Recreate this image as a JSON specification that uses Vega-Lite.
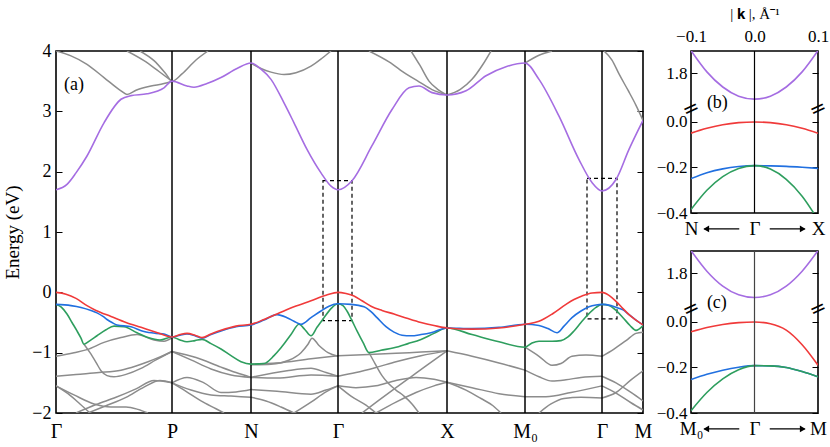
{
"$schema":"https://vega.github.io/schema/vega-lite/v6.json",
"padding":{"left":3,"top":5,"right":0,"bottom":0},
"config":{"view":{"stroke":"black","strokeWidth":1.6},"axis":{"labelFont":"Liberation Serif","titleFont":"Liberation Serif","labelColor":"black","titleColor":"black","tickColor":"black","titleFontWeight":"normal","grid":false,"domain":false,"labelFlush":false,"labelOverlap":false,"labelBound":false},"text":{"font":"Liberation Serif"}},
"datasets":{
"main":[
{"s":"u1","c":"gray","k":0,"e":4.0},{"s":"u1","c":"gray","k":15,"e":3.92},{"s":"u1","c":"gray","k":31,"e":3.78},{"s":"u1","c":"gray","k":48,"e":3.56},{"s":"u1","c":"gray","k":65,"e":3.34},{"s":"u1","c":"gray","k":71,"e":3.28},{"s":"u1","c":"gray","k":80,"e":3.35},{"s":"u1","c":"gray","k":95,"e":3.42},{"s":"u1","c":"gray","k":108,"e":3.46},{"s":"u1","c":"gray","k":116,"e":3.5},
{"s":"u2","c":"gray","k":71,"e":4.0},{"s":"u2","c":"gray","k":88,"e":3.84},{"s":"u2","c":"gray","k":103,"e":3.66},{"s":"u2","c":"gray","k":116,"e":3.5},
{"s":"u3","c":"gray","k":84,"e":4.0},{"s":"u3","c":"gray","k":98,"e":3.84},{"s":"u3","c":"gray","k":110,"e":3.62},{"s":"u3","c":"gray","k":116,"e":3.5},{"s":"u3","c":"gray","k":126,"e":3.62},{"s":"u3","c":"gray","k":140,"e":3.85},{"s":"u3","c":"gray","k":152,"e":4.0},
{"s":"u4","c":"gray","k":195,"e":3.8},{"s":"u4","c":"gray","k":205,"e":3.71},{"s":"u4","c":"gray","k":215,"e":3.65},{"s":"u4","c":"gray","k":228,"e":3.61},{"s":"u4","c":"gray","k":240,"e":3.64},{"s":"u4","c":"gray","k":255,"e":3.75},{"s":"u4","c":"gray","k":266,"e":3.88},{"s":"u4","c":"gray","k":275,"e":4.0},
{"s":"u5","c":"gray","k":313,"e":4.0},{"s":"u5","c":"gray","k":333,"e":3.82},{"s":"u5","c":"gray","k":350,"e":3.62},{"s":"u5","c":"gray","k":363,"e":3.49},{"s":"u5","c":"gray","k":376,"e":3.36},{"s":"u5","c":"gray","k":391,"e":3.27},
{"s":"u6","c":"gray","k":355,"e":4.0},{"s":"u6","c":"gray","k":364,"e":3.76},{"s":"u6","c":"gray","k":373,"e":3.5},{"s":"u6","c":"gray","k":382,"e":3.36},{"s":"u6","c":"gray","k":391,"e":3.27},
{"s":"u7","c":"gray","k":391,"e":3.27},{"s":"u7","c":"gray","k":404,"e":3.36},{"s":"u7","c":"gray","k":416,"e":3.53},{"s":"u7","c":"gray","k":427,"e":3.78},{"s":"u7","c":"gray","k":435,"e":4.0},
{"s":"u8","c":"gray","k":469,"e":3.8},{"s":"u8","c":"gray","k":483,"e":3.93},{"s":"u8","c":"gray","k":496,"e":4.0},
{"s":"u9","c":"gray","k":548,"e":4.0},{"s":"u9","c":"gray","k":556,"e":3.85},{"s":"u9","c":"gray","k":563,"e":3.62},{"s":"u9","c":"gray","k":572,"e":3.35},{"s":"u9","c":"gray","k":580,"e":3.1},{"s":"u9","c":"gray","k":587,"e":2.85},
{"s":"l1","c":"gray","k":0,"e":-1.06},{"s":"l1","c":"gray","k":18,"e":-1.0},{"s":"l1","c":"gray","k":31,"e":-0.95},{"s":"l1","c":"gray","k":48,"e":-0.83},{"s":"l1","c":"gray","k":65,"e":-0.75},{"s":"l1","c":"gray","k":81,"e":-0.7},{"s":"l1","c":"gray","k":98,"e":-0.79},{"s":"l1","c":"gray","k":108,"e":-0.81},{"s":"l1","c":"gray","k":116,"e":-0.75},
{"s":"l2","c":"gray","k":28,"e":-0.86},{"s":"l2","c":"gray","k":34,"e":-1.0},{"s":"l2","c":"gray","k":40,"e":-1.16},{"s":"l2","c":"gray","k":45,"e":-1.3},{"s":"l2","c":"gray","k":51,"e":-1.38},{"s":"l2","c":"gray","k":58,"e":-1.4},{"s":"l2","c":"gray","k":70,"e":-1.36},{"s":"l2","c":"gray","k":85,"e":-1.26},{"s":"l2","c":"gray","k":100,"e":-1.12},{"s":"l2","c":"gray","k":116,"e":-0.98},
{"s":"l3","c":"gray","k":0,"e":-1.39},{"s":"l3","c":"gray","k":20,"e":-1.36},{"s":"l3","c":"gray","k":43,"e":-1.33},{"s":"l3","c":"gray","k":65,"e":-1.29},{"s":"l3","c":"gray","k":80,"e":-1.22},{"s":"l3","c":"gray","k":92,"e":-1.15},{"s":"l3","c":"gray","k":104,"e":-1.07},{"s":"l3","c":"gray","k":116,"e":-0.98},
{"s":"l4","c":"gray","k":0,"e":-1.55},{"s":"l4","c":"gray","k":18,"e":-1.7},{"s":"l4","c":"gray","k":38,"e":-1.85},{"s":"l4","c":"gray","k":55,"e":-1.9},{"s":"l4","c":"gray","k":70,"e":-1.9},{"s":"l4","c":"gray","k":82,"e":-1.94},{"s":"l4","c":"gray","k":92,"e":-2.0},
{"s":"l5","c":"gray","k":0,"e":-1.55},{"s":"l5","c":"gray","k":12,"e":-1.68},{"s":"l5","c":"gray","k":24,"e":-1.85},{"s":"l5","c":"gray","k":34,"e":-2.0},
{"s":"l6","c":"gray","k":20,"e":-2.0},{"s":"l6","c":"gray","k":40,"e":-1.86},{"s":"l6","c":"gray","k":60,"e":-1.74},{"s":"l6","c":"gray","k":80,"e":-1.6},{"s":"l6","c":"gray","k":98,"e":-1.46},{"s":"l6","c":"gray","k":116,"e":-1.5},
{"s":"l7","c":"gray","k":32,"e":-2.0},{"s":"l7","c":"gray","k":50,"e":-1.88},{"s":"l7","c":"gray","k":70,"e":-1.74},{"s":"l7","c":"gray","k":88,"e":-1.57},{"s":"l7","c":"gray","k":104,"e":-1.46},{"s":"l7","c":"gray","k":116,"e":-1.5},
{"s":"m1","c":"gray","k":116,"e":-0.98},{"s":"m1","c":"gray","k":140,"e":-1.08},{"s":"m1","c":"gray","k":165,"e":-1.24},{"s":"m1","c":"gray","k":180,"e":-1.33},{"s":"m1","c":"gray","k":195,"e":-1.41},
{"s":"m2","c":"gray","k":116,"e":-0.98},{"s":"m2","c":"gray","k":135,"e":-1.12},{"s":"m2","c":"gray","k":155,"e":-1.27},{"s":"m2","c":"gray","k":175,"e":-1.37},{"s":"m2","c":"gray","k":195,"e":-1.41},
{"s":"m3","c":"gray","k":116,"e":-1.5},{"s":"m3","c":"gray","k":131,"e":-1.41},{"s":"m3","c":"gray","k":148,"e":-1.5},{"s":"m3","c":"gray","k":165,"e":-1.66},{"s":"m3","c":"gray","k":180,"e":-1.65},{"s":"m3","c":"gray","k":195,"e":-1.61},
{"s":"m4","c":"gray","k":116,"e":-1.5},{"s":"m4","c":"gray","k":135,"e":-1.62},{"s":"m4","c":"gray","k":155,"e":-1.7},{"s":"m4","c":"gray","k":175,"e":-1.72},{"s":"m4","c":"gray","k":195,"e":-1.74},
{"s":"m5","c":"gray","k":116,"e":-1.5},{"s":"m5","c":"gray","k":130,"e":-1.64},{"s":"m5","c":"gray","k":145,"e":-1.8},{"s":"m5","c":"gray","k":160,"e":-1.93},{"s":"m5","c":"gray","k":168,"e":-2.0},
{"s":"n1","c":"gray","k":195,"e":-1.2},{"s":"n1","c":"gray","k":215,"e":-1.19},{"s":"n1","c":"gray","k":232,"e":-1.13},{"s":"n1","c":"gray","k":245,"e":-1.0},{"s":"n1","c":"gray","k":252,"e":-0.86},{"s":"n1","c":"gray","k":256,"e":-0.76},{"s":"n1","c":"gray","k":263,"e":-0.88},{"s":"n1","c":"gray","k":272,"e":-1.0},{"s":"n1","c":"gray","k":282,"e":-1.06},
{"s":"n2","c":"gray","k":195,"e":-1.19},{"s":"n2","c":"gray","k":221,"e":-1.17},{"s":"n2","c":"gray","k":255,"e":-1.1},{"s":"n2","c":"gray","k":282,"e":-1.05},
{"s":"n3","c":"gray","k":195,"e":-1.41},{"s":"n3","c":"gray","k":231,"e":-1.3},{"s":"n3","c":"gray","k":255,"e":-1.26},{"s":"n3","c":"gray","k":270,"e":-1.33},{"s":"n3","c":"gray","k":282,"e":-1.39},
{"s":"n4","c":"gray","k":195,"e":-1.41},{"s":"n4","c":"gray","k":221,"e":-1.42},{"s":"n4","c":"gray","k":255,"e":-1.37},{"s":"n4","c":"gray","k":282,"e":-1.39},
{"s":"n5","c":"gray","k":195,"e":-1.61},{"s":"n5","c":"gray","k":221,"e":-1.64},{"s":"n5","c":"gray","k":255,"e":-1.69},{"s":"n5","c":"gray","k":270,"e":-1.62},{"s":"n5","c":"gray","k":282,"e":-1.55},
{"s":"n6","c":"gray","k":195,"e":-1.74},{"s":"n6","c":"gray","k":210,"e":-1.8},{"s":"n6","c":"gray","k":225,"e":-1.9},{"s":"n6","c":"gray","k":238,"e":-2.0},
{"s":"n7","c":"gray","k":238,"e":-2.0},{"s":"n7","c":"gray","k":255,"e":-1.82},{"s":"n7","c":"gray","k":270,"e":-1.65},{"s":"n7","c":"gray","k":282,"e":-1.55},
{"s":"x1","c":"gray","k":282,"e":-1.05},{"s":"x1","c":"gray","k":313,"e":-1.03},{"s":"x1","c":"gray","k":340,"e":-1.01},{"s":"x1","c":"gray","k":365,"e":-0.99},{"s":"x1","c":"gray","k":391,"e":-0.97},
{"s":"x2","c":"gray","k":282,"e":-1.39},{"s":"x2","c":"gray","k":300,"e":-1.33},{"s":"x2","c":"gray","k":321,"e":-1.24},{"s":"x2","c":"gray","k":340,"e":-1.15},{"s":"x2","c":"gray","k":365,"e":-1.05},{"s":"x2","c":"gray","k":391,"e":-0.97},
{"s":"x3","c":"gray","k":313,"e":-1.0},{"s":"x3","c":"gray","k":319,"e":-1.18},{"s":"x3","c":"gray","k":326,"e":-1.38},{"s":"x3","c":"gray","k":333,"e":-1.52},{"s":"x3","c":"gray","k":340,"e":-1.62},{"s":"x3","c":"gray","k":348,"e":-1.72},{"s":"x3","c":"gray","k":356,"e":-1.85},{"s":"x3","c":"gray","k":363,"e":-2.0},
{"s":"x4","c":"gray","k":282,"e":-1.55},{"s":"x4","c":"gray","k":300,"e":-1.58},{"s":"x4","c":"gray","k":320,"e":-1.55},{"s":"x4","c":"gray","k":340,"e":-1.46},{"s":"x4","c":"gray","k":360,"e":-1.41},{"s":"x4","c":"gray","k":378,"e":-1.44},{"s":"x4","c":"gray","k":391,"e":-1.49},
{"s":"x5","c":"gray","k":282,"e":-1.55},{"s":"x5","c":"gray","k":295,"e":-1.72},{"s":"x5","c":"gray","k":310,"e":-1.87},{"s":"x5","c":"gray","k":320,"e":-2.0},
{"s":"x6","c":"gray","k":320,"e":-2.0},{"s":"x6","c":"gray","k":340,"e":-1.82},{"s":"x6","c":"gray","k":360,"e":-1.66},{"s":"x6","c":"gray","k":378,"e":-1.55},{"s":"x6","c":"gray","k":391,"e":-1.49},
{"s":"x7","c":"gray","k":306,"e":-2.0},{"s":"x7","c":"gray","k":322,"e":-1.8},{"s":"x7","c":"gray","k":340,"e":-1.58},{"s":"x7","c":"gray","k":355,"e":-1.4},{"s":"x7","c":"gray","k":370,"e":-1.22},{"s":"x7","c":"gray","k":391,"e":-0.97},
{"s":"y1","c":"gray","k":391,"e":-0.97},{"s":"y1","c":"gray","k":416,"e":-1.06},{"s":"y1","c":"gray","k":443,"e":-1.17},{"s":"y1","c":"gray","k":469,"e":-1.29},
{"s":"y2","c":"gray","k":391,"e":-1.49},{"s":"y2","c":"gray","k":416,"e":-1.58},{"s":"y2","c":"gray","k":443,"e":-1.68},{"s":"y2","c":"gray","k":469,"e":-1.73},
{"s":"y3","c":"gray","k":391,"e":-1.49},{"s":"y3","c":"gray","k":410,"e":-1.62},{"s":"y3","c":"gray","k":425,"e":-1.76},{"s":"y3","c":"gray","k":437,"e":-1.88},{"s":"y3","c":"gray","k":445,"e":-2.0},
{"s":"z1","c":"gray","k":469,"e":-0.91},{"s":"z1","c":"gray","k":483,"e":-1.06},{"s":"z1","c":"gray","k":496,"e":-1.21},{"s":"z1","c":"gray","k":505,"e":-1.18},{"s":"z1","c":"gray","k":516,"e":-1.06},{"s":"z1","c":"gray","k":530,"e":-1.04},{"s":"z1","c":"gray","k":546,"e":-1.06},
{"s":"z2","c":"gray","k":469,"e":-1.29},{"s":"z2","c":"gray","k":483,"e":-1.4},{"s":"z2","c":"gray","k":496,"e":-1.47},{"s":"z2","c":"gray","k":510,"e":-1.45},{"s":"z2","c":"gray","k":525,"e":-1.41},{"s":"z2","c":"gray","k":546,"e":-1.39},
{"s":"z3","c":"gray","k":469,"e":-1.73},{"s":"z3","c":"gray","k":490,"e":-1.73},{"s":"z3","c":"gray","k":515,"e":-1.66},{"s":"z3","c":"gray","k":546,"e":-1.55},
{"s":"z4","c":"gray","k":483,"e":-2.0},{"s":"z4","c":"gray","k":495,"e":-1.85},{"s":"z4","c":"gray","k":508,"e":-1.76},{"s":"z4","c":"gray","k":525,"e":-1.74},{"s":"z4","c":"gray","k":546,"e":-1.75},
{"s":"w1","c":"gray","k":546,"e":-1.06},{"s":"w1","c":"gray","k":558,"e":-0.94},{"s":"w1","c":"gray","k":570,"e":-0.8},{"s":"w1","c":"gray","k":580,"e":-0.68},{"s":"w1","c":"gray","k":587,"e":-0.66},
{"s":"w2","c":"gray","k":546,"e":-1.39},{"s":"w2","c":"gray","k":560,"e":-1.5},{"s":"w2","c":"gray","k":575,"e":-1.66},{"s":"w2","c":"gray","k":587,"e":-1.8},
{"s":"w3","c":"gray","k":546,"e":-1.55},{"s":"w3","c":"gray","k":560,"e":-1.67},{"s":"w3","c":"gray","k":575,"e":-1.83},{"s":"w3","c":"gray","k":587,"e":-1.95},
{"s":"w4","c":"gray","k":546,"e":-1.75},{"s":"w4","c":"gray","k":560,"e":-1.66},{"s":"w4","c":"gray","k":575,"e":-1.45},{"s":"w4","c":"gray","k":587,"e":-1.3},
{"s":"g","c":"green","k":0,"e":-0.2},{"s":"g","c":"green","k":5,"e":-0.24},{"s":"g","c":"green","k":11,"e":-0.36},{"s":"g","c":"green","k":16,"e":-0.5},{"s":"g","c":"green","k":21,"e":-0.64},{"s":"g","c":"green","k":25,"e":-0.76},{"s":"g","c":"green","k":28,"e":-0.86},{"s":"g","c":"green","k":34,"e":-0.8},{"s":"g","c":"green","k":41,"e":-0.72},{"s":"g","c":"green","k":50,"e":-0.62},{"s":"g","c":"green","k":58,"e":-0.56},{"s":"g","c":"green","k":68,"e":-0.57},{"s":"g","c":"green","k":81,"e":-0.67},{"s":"g","c":"green","k":92,"e":-0.75},{"s":"g","c":"green","k":104,"e":-0.79},{"s":"g","c":"green","k":116,"e":-0.74},{"s":"g","c":"green","k":124,"e":-0.79},{"s":"g","c":"green","k":131,"e":-0.82},{"s":"g","c":"green","k":139,"e":-0.8},{"s":"g","c":"green","k":146,"e":-0.78},{"s":"g","c":"green","k":155,"e":-0.85},{"s":"g","c":"green","k":165,"e":-0.94},{"s":"g","c":"green","k":175,"e":-1.05},{"s":"g","c":"green","k":185,"e":-1.15},{"s":"g","c":"green","k":195,"e":-1.19},{"s":"g","c":"green","k":208,"e":-1.18},{"s":"g","c":"green","k":218,"e":-1.05},{"s":"g","c":"green","k":225,"e":-0.92},{"s":"g","c":"green","k":235,"e":-0.7},{"s":"g","c":"green","k":243,"e":-0.53},{"s":"g","c":"green","k":249,"e":-0.62},{"s":"g","c":"green","k":255,"e":-0.72},{"s":"g","c":"green","k":261,"e":-0.58},{"s":"g","c":"green","k":268,"e":-0.42},{"s":"g","c":"green","k":275,"e":-0.27},{"s":"g","c":"green","k":282,"e":-0.19},{"s":"g","c":"green","k":287,"e":-0.22},{"s":"g","c":"green","k":291,"e":-0.31},{"s":"g","c":"green","k":296,"e":-0.47},{"s":"g","c":"green","k":301,"e":-0.64},{"s":"g","c":"green","k":307,"e":-0.83},{"s":"g","c":"green","k":313,"e":-1.0},{"s":"g","c":"green","k":325,"e":-0.96},{"s":"g","c":"green","k":338,"e":-0.92},{"s":"g","c":"green","k":352,"e":-0.85},{"s":"g","c":"green","k":365,"e":-0.78},{"s":"g","c":"green","k":378,"e":-0.68},{"s":"g","c":"green","k":391,"e":-0.59},{"s":"g","c":"green","k":416,"e":-0.7},{"s":"g","c":"green","k":443,"e":-0.82},{"s":"g","c":"green","k":469,"e":-0.91},{"s":"g","c":"green","k":476,"e":-0.84},{"s":"g","c":"green","k":483,"e":-0.81},{"s":"g","c":"green","k":496,"e":-0.81},{"s":"g","c":"green","k":505,"e":-0.8},{"s":"g","c":"green","k":512,"e":-0.74},{"s":"g","c":"green","k":518,"e":-0.64},{"s":"g","c":"green","k":525,"e":-0.5},{"s":"g","c":"green","k":532,"e":-0.37},{"s":"g","c":"green","k":540,"e":-0.25},{"s":"g","c":"green","k":546,"e":-0.2},{"s":"g","c":"green","k":553,"e":-0.22},{"s":"g","c":"green","k":560,"e":-0.3},{"s":"g","c":"green","k":567,"e":-0.42},{"s":"g","c":"green","k":574,"e":-0.55},{"s":"g","c":"green","k":580,"e":-0.63},{"s":"g","c":"green","k":587,"e":-0.55},
{"s":"b","c":"blue","k":0,"e":-0.2},{"s":"b","c":"blue","k":15,"e":-0.22},{"s":"b","c":"blue","k":25,"e":-0.25},{"s":"b","c":"blue","k":35,"e":-0.3},{"s":"b","c":"blue","k":41,"e":-0.34},{"s":"b","c":"blue","k":47,"e":-0.4},{"s":"b","c":"blue","k":51,"e":-0.45},{"s":"b","c":"blue","k":56,"e":-0.5},{"s":"b","c":"blue","k":61,"e":-0.54},{"s":"b","c":"blue","k":75,"e":-0.57},{"s":"b","c":"blue","k":88,"e":-0.65},{"s":"b","c":"blue","k":100,"e":-0.68},{"s":"b","c":"blue","k":108,"e":-0.69},{"s":"b","c":"blue","k":116,"e":-0.74},{"s":"b","c":"blue","k":124,"e":-0.71},{"s":"b","c":"blue","k":131,"e":-0.69},{"s":"b","c":"blue","k":139,"e":-0.72},{"s":"b","c":"blue","k":146,"e":-0.76},{"s":"b","c":"blue","k":155,"e":-0.7},{"s":"b","c":"blue","k":165,"e":-0.64},{"s":"b","c":"blue","k":180,"e":-0.57},{"s":"b","c":"blue","k":195,"e":-0.54},{"s":"b","c":"blue","k":208,"e":-0.46},{"s":"b","c":"blue","k":221,"e":-0.37},{"s":"b","c":"blue","k":231,"e":-0.42},{"s":"b","c":"blue","k":238,"e":-0.48},{"s":"b","c":"blue","k":245,"e":-0.53},{"s":"b","c":"blue","k":255,"e":-0.42},{"s":"b","c":"blue","k":265,"e":-0.31},{"s":"b","c":"blue","k":273,"e":-0.23},{"s":"b","c":"blue","k":282,"e":-0.19},{"s":"b","c":"blue","k":295,"e":-0.2},{"s":"b","c":"blue","k":308,"e":-0.24},{"s":"b","c":"blue","k":315,"e":-0.32},{"s":"b","c":"blue","k":321,"e":-0.42},{"s":"b","c":"blue","k":330,"e":-0.57},{"s":"b","c":"blue","k":338,"e":-0.66},{"s":"b","c":"blue","k":346,"e":-0.71},{"s":"b","c":"blue","k":355,"e":-0.72},{"s":"b","c":"blue","k":365,"e":-0.7},{"s":"b","c":"blue","k":375,"e":-0.67},{"s":"b","c":"blue","k":391,"e":-0.59},{"s":"b","c":"blue","k":416,"e":-0.6},{"s":"b","c":"blue","k":443,"e":-0.58},{"s":"b","c":"blue","k":469,"e":-0.53},{"s":"b","c":"blue","k":483,"e":-0.55},{"s":"b","c":"blue","k":492,"e":-0.6},{"s":"b","c":"blue","k":501,"e":-0.67},{"s":"b","c":"blue","k":508,"e":-0.56},{"s":"b","c":"blue","k":516,"e":-0.42},{"s":"b","c":"blue","k":525,"e":-0.31},{"s":"b","c":"blue","k":533,"e":-0.24},{"s":"b","c":"blue","k":540,"e":-0.21},{"s":"b","c":"blue","k":546,"e":-0.2},{"s":"b","c":"blue","k":555,"e":-0.22},{"s":"b","c":"blue","k":562,"e":-0.26},{"s":"b","c":"blue","k":567,"e":-0.29},{"s":"b","c":"blue","k":573,"e":-0.37},{"s":"b","c":"blue","k":580,"e":-0.46},{"s":"b","c":"blue","k":587,"e":-0.54},
{"s":"r","c":"red","k":0,"e":0.0},{"s":"r","c":"red","k":10,"e":-0.03},{"s":"r","c":"red","k":20,"e":-0.1},{"s":"r","c":"red","k":31,"e":-0.22},{"s":"r","c":"red","k":40,"e":-0.3},{"s":"r","c":"red","k":55,"e":-0.4},{"s":"r","c":"red","k":70,"e":-0.5},{"s":"r","c":"red","k":85,"e":-0.58},{"s":"r","c":"red","k":100,"e":-0.66},{"s":"r","c":"red","k":116,"e":-0.74},{"s":"r","c":"red","k":124,"e":-0.7},{"s":"r","c":"red","k":131,"e":-0.68},{"s":"r","c":"red","k":139,"e":-0.71},{"s":"r","c":"red","k":146,"e":-0.75},{"s":"r","c":"red","k":155,"e":-0.69},{"s":"r","c":"red","k":165,"e":-0.63},{"s":"r","c":"red","k":180,"e":-0.56},{"s":"r","c":"red","k":195,"e":-0.53},{"s":"r","c":"red","k":208,"e":-0.45},{"s":"r","c":"red","k":221,"e":-0.36},{"s":"r","c":"red","k":238,"e":-0.24},{"s":"r","c":"red","k":255,"e":-0.14},{"s":"r","c":"red","k":270,"e":-0.05},{"s":"r","c":"red","k":282,"e":0.0},{"s":"r","c":"red","k":290,"e":-0.02},{"s":"r","c":"red","k":298,"e":-0.06},{"s":"r","c":"red","k":306,"e":-0.14},{"s":"r","c":"red","k":315,"e":-0.23},{"s":"r","c":"red","k":326,"e":-0.3},{"s":"r","c":"red","k":338,"e":-0.36},{"s":"r","c":"red","k":351,"e":-0.43},{"s":"r","c":"red","k":365,"e":-0.5},{"s":"r","c":"red","k":378,"e":-0.55},{"s":"r","c":"red","k":391,"e":-0.59},{"s":"r","c":"red","k":416,"e":-0.61},{"s":"r","c":"red","k":443,"e":-0.59},{"s":"r","c":"red","k":469,"e":-0.53},{"s":"r","c":"red","k":483,"e":-0.48},{"s":"r","c":"red","k":497,"e":-0.35},{"s":"r","c":"red","k":510,"e":-0.2},{"s":"r","c":"red","k":518,"e":-0.12},{"s":"r","c":"red","k":526,"e":-0.06},{"s":"r","c":"red","k":536,"e":-0.01},{"s":"r","c":"red","k":546,"e":0.0},{"s":"r","c":"red","k":553,"e":-0.05},{"s":"r","c":"red","k":560,"e":-0.15},{"s":"r","c":"red","k":567,"e":-0.27},{"s":"r","c":"red","k":573,"e":-0.37},{"s":"r","c":"red","k":580,"e":-0.46},{"s":"r","c":"red","k":587,"e":-0.54},
{"s":"p","c":"purple","k":0,"e":1.7},{"s":"p","c":"purple","k":11,"e":1.79},{"s":"p","c":"purple","k":20,"e":1.98},{"s":"p","c":"purple","k":31,"e":2.26},{"s":"p","c":"purple","k":48,"e":2.81},{"s":"p","c":"purple","k":65,"e":3.2},{"s":"p","c":"purple","k":75,"e":3.26},{"s":"p","c":"purple","k":91,"e":3.29},{"s":"p","c":"purple","k":108,"e":3.39},{"s":"p","c":"purple","k":116,"e":3.5},{"s":"p","c":"purple","k":131,"e":3.42},{"s":"p","c":"purple","k":138,"e":3.4},{"s":"p","c":"purple","k":151,"e":3.46},{"s":"p","c":"purple","k":165,"e":3.56},{"s":"p","c":"purple","k":181,"e":3.71},{"s":"p","c":"purple","k":195,"e":3.8},{"s":"p","c":"purple","k":205,"e":3.7},{"s":"p","c":"purple","k":215,"e":3.53},{"s":"p","c":"purple","k":228,"e":3.14},{"s":"p","c":"purple","k":238,"e":2.81},{"s":"p","c":"purple","k":251,"e":2.37},{"s":"p","c":"purple","k":265,"e":1.98},{"s":"p","c":"purple","k":275,"e":1.76},{"s":"p","c":"purple","k":282,"e":1.7},{"s":"p","c":"purple","k":296,"e":1.85},{"s":"p","c":"purple","k":316,"e":2.43},{"s":"p","c":"purple","k":336,"e":3.03},{"s":"p","c":"purple","k":353,"e":3.39},{"s":"p","c":"purple","k":363,"e":3.42},{"s":"p","c":"purple","k":376,"e":3.31},{"s":"p","c":"purple","k":391,"e":3.27},{"s":"p","c":"purple","k":410,"e":3.34},{"s":"p","c":"purple","k":430,"e":3.59},{"s":"p","c":"purple","k":450,"e":3.74},{"s":"p","c":"purple","k":469,"e":3.8},{"s":"p","c":"purple","k":483,"e":3.53},{"s":"p","c":"purple","k":503,"e":2.92},{"s":"p","c":"purple","k":523,"e":2.2},{"s":"p","c":"purple","k":536,"e":1.82},{"s":"p","c":"purple","k":546,"e":1.68},{"s":"p","c":"purple","k":560,"e":1.87},{"s":"p","c":"purple","k":573,"e":2.37},{"s":"p","c":"purple","k":587,"e":2.85}
],
"pb":[
{"c":"purple","k":-0.1,"e":1.9},{"c":"purple","k":-0.075,"e":1.807},{"c":"purple","k":-0.05,"e":1.741},{"c":"purple","k":-0.025,"e":1.701},{"c":"purple","k":0,"e":1.688},{"c":"purple","k":0.025,"e":1.701},{"c":"purple","k":0.05,"e":1.741},{"c":"purple","k":0.075,"e":1.807},{"c":"purple","k":0.1,"e":1.9},
{"c":"red","k":-0.1,"e":-0.049},{"c":"red","k":-0.075,"e":-0.028},{"c":"red","k":-0.05,"e":-0.012},{"c":"red","k":-0.025,"e":-0.003},{"c":"red","k":0,"e":0.0},{"c":"red","k":0.025,"e":-0.003},{"c":"red","k":0.05,"e":-0.012},{"c":"red","k":0.075,"e":-0.028},{"c":"red","k":0.1,"e":-0.05},
{"c":"blue","k":-0.1,"e":-0.249},{"c":"blue","k":-0.075,"e":-0.223},{"c":"blue","k":-0.05,"e":-0.206},{"c":"blue","k":-0.025,"e":-0.196},{"c":"blue","k":0,"e":-0.192},{"c":"blue","k":0.025,"e":-0.193},{"c":"blue","k":0.05,"e":-0.195},{"c":"blue","k":0.075,"e":-0.199},{"c":"blue","k":0.1,"e":-0.204},
{"c":"green","k":-0.1,"e":-0.385},{"c":"green","k":-0.075,"e":-0.3},{"c":"green","k":-0.05,"e":-0.24},{"c":"green","k":-0.025,"e":-0.204},{"c":"green","k":0,"e":-0.192},{"c":"green","k":0.025,"e":-0.207},{"c":"green","k":0.05,"e":-0.252},{"c":"green","k":0.075,"e":-0.326},{"c":"green","k":0.1,"e":-0.43}
],
"pc":[
{"c":"purple","k":-0.1,"e":1.9},{"c":"purple","k":-0.075,"e":1.81},{"c":"purple","k":-0.05,"e":1.745},{"c":"purple","k":-0.025,"e":1.707},{"c":"purple","k":0,"e":1.695},{"c":"purple","k":0.025,"e":1.707},{"c":"purple","k":0.05,"e":1.745},{"c":"purple","k":0.075,"e":1.81},{"c":"purple","k":0.1,"e":1.9},
{"c":"red","k":-0.1,"e":-0.043},{"c":"red","k":-0.075,"e":-0.024},{"c":"red","k":-0.05,"e":-0.011},{"c":"red","k":-0.025,"e":-0.003},{"c":"red","k":0,"e":0.0},{"c":"red","k":0.025,"e":-0.008},{"c":"red","k":0.05,"e":-0.036},{"c":"red","k":0.075,"e":-0.1},{"c":"red","k":0.1,"e":-0.19},
{"c":"blue","k":-0.1,"e":-0.253},{"c":"blue","k":-0.075,"e":-0.23},{"c":"blue","k":-0.05,"e":-0.212},{"c":"blue","k":-0.025,"e":-0.199},{"c":"blue","k":0,"e":-0.192},{"c":"blue","k":0.025,"e":-0.193},{"c":"blue","k":0.05,"e":-0.2},{"c":"blue","k":0.075,"e":-0.218},{"c":"blue","k":0.1,"e":-0.241},
{"c":"green","k":-0.1,"e":-0.39},{"c":"green","k":-0.075,"e":-0.31},{"c":"green","k":-0.05,"e":-0.25},{"c":"green","k":-0.025,"e":-0.21},{"c":"green","k":0,"e":-0.192},{"c":"green","k":0.025,"e":-0.193},{"c":"green","k":0.05,"e":-0.2},{"c":"green","k":0.075,"e":-0.218},{"c":"green","k":0.1,"e":-0.241}
],
"sym":[{"k":116},{"k":195},{"k":282},{"k":391},{"k":469},{"k":546}],
"boxes":[{"k1":267,"k2":296,"e1":-0.47,"e2":1.85},{"k1":531,"k2":561,"e1":-0.44,"e2":1.89}],
"breaks":[{"k":-0.1,"e":0.057,"t":"="},{"k":0.1,"e":0.057,"t":"="}],
"arrows":[{"a":-0.079,"b":-0.024,"e":-0.47},{"a":0.024,"b":0.079,"e":-0.47}],
"heads":[{"k":-0.076,"e":-0.47,"sh":"triangle-left"},{"k":0.076,"e":-0.47,"sh":"triangle-right"}]
},
"bounds":"flush",
"spacing":48,
"hconcat":[
{
"width":587,"height":362,
"layer":[
{"data":{"name":"main"},"transform":[{"filter":"datum.c=='gray'"}],"mark":{"type":"line","color":"#8c8c8c","strokeWidth":1.5,"interpolate":"monotone","clip":true},
"encoding":{
"x":{"field":"k","type":"quantitative","scale":{"domain":[0,587],"nice":false,"zero":false},"axis":{"values":[0,116,195,282,391,469,546,587],"labelExpr":"datum.value==0?'Γ':datum.value==116?'P':datum.value==195?'N':datum.value==282?'Γ':datum.value==391?'X':datum.value==469?'M₀':datum.value==546?'Γ':'M'","ticks":false,"title":null,"labelFontSize":20,"labelPadding":8}},
"y":{"field":"e","type":"quantitative","scale":{"domain":[-2,4],"nice":false,"zero":false},"axis":{"values":[-2,-1,0,1,2,3,4],"format":"d","title":"Energy (eV)","titleFontSize":19,"titlePadding":9,"labelFontSize":18,"tickSize":-6,"labelPadding":11}},
"detail":{"field":"s"}}},
{"data":{"name":"sym"},"mark":{"type":"rule","color":"black","strokeWidth":1.5},"encoding":{"x":{"field":"k","type":"quantitative"}}},
{"data":{"name":"boxes"},"mark":{"type":"rect","fill":"transparent","stroke":"black","strokeWidth":1.2,"strokeDash":[4,3]},"encoding":{"x":{"field":"k1","type":"quantitative"},"x2":{"field":"k2"},"y":{"field":"e1","type":"quantitative","axis":null},"y2":{"field":"e2"}}},
{"data":{"name":"main"},"transform":[{"filter":"datum.c=='green'"}],"mark":{"type":"line","color":"#2e9e5e","strokeWidth":1.6,"interpolate":"monotone","clip":true},"encoding":{"x":{"field":"k","type":"quantitative"},"y":{"field":"e","type":"quantitative","axis":null}}},
{"data":{"name":"main"},"transform":[{"filter":"datum.c=='blue'"}],"mark":{"type":"line","color":"#2170e0","strokeWidth":1.6,"interpolate":"monotone","clip":true},"encoding":{"x":{"field":"k","type":"quantitative"},"y":{"field":"e","type":"quantitative","axis":null}}},
{"data":{"name":"main"},"transform":[{"filter":"datum.c=='red'"}],"mark":{"type":"line","color":"#f03a3a","strokeWidth":1.6,"interpolate":"monotone","clip":true},"encoding":{"x":{"field":"k","type":"quantitative"},"y":{"field":"e","type":"quantitative","axis":null}}},
{"data":{"name":"main"},"transform":[{"filter":"datum.c=='purple'"}],"mark":{"type":"line","color":"#a56de2","strokeWidth":1.6,"interpolate":"monotone","clip":true},"encoding":{"x":{"field":"k","type":"quantitative"},"y":{"field":"e","type":"quantitative","axis":null}}},
{"data":{"values":[{"k":8,"e":3.43,"t":"(a)"}]},"mark":{"type":"text","align":"left","baseline":"middle","fontSize":18,"font":"Liberation Serif"},"encoding":{"x":{"field":"k","type":"quantitative"},"y":{"field":"e","type":"quantitative","axis":{"orient":"right","labels":false,"values":[-2,-1,0,1,2,3,4],"tickSize":-6,"title":null}},"text":{"field":"t"}}}
],
"resolve":{"axis":{"y":"independent"}}
},
{
"bounds":"flush",
"spacing":38,
"vconcat":[
{
"width":127,"height":162,
"layer":[
{"data":{"name":"pb"},"transform":[{"filter":"datum.c=='purple'"}],"mark":{"type":"line","color":"#a56de2","strokeWidth":1.6,"interpolate":"monotone","clip":true},
"encoding":{"x":{"field":"k","type":"quantitative","scale":{"domain":[-0.1,0.1],"nice":false,"zero":false},"axis":{"orient":"top","values":[-0.1,0,0.1],"format":".1f","ticks":false,"labelFontSize":17,"labelPadding":6,"title":"| 𝐤 |, Å⁻¹","titleFontSize":15,"titlePadding":6}},
"y":{"field":"e","type":"quantitative","scale":{"domain":[-0.4,0.057,1.645,1.898],"range":[162,58,58,0],"nice":false,"zero":false},"axis":{"values":[-0.4,-0.2,0,1.8],"format":".1f","title":null,"labelFontSize":17,"tickSize":-6,"labelPadding":10}}}},
{"data":{"name":"pb"},"transform":[{"filter":"datum.c=='red'"}],"mark":{"type":"line","color":"#f03a3a","strokeWidth":1.6,"interpolate":"monotone","clip":true},"encoding":{"x":{"field":"k","type":"quantitative","axis":null},"y":{"field":"e","type":"quantitative","axis":null}}},
{"data":{"name":"pb"},"transform":[{"filter":"datum.c=='blue'"}],"mark":{"type":"line","color":"#2170e0","strokeWidth":1.6,"interpolate":"monotone","clip":true},"encoding":{"x":{"field":"k","type":"quantitative","axis":null},"y":{"field":"e","type":"quantitative","axis":null}}},
{"data":{"name":"pb"},"transform":[{"filter":"datum.c=='green'"}],"mark":{"type":"line","color":"#2e9e5e","strokeWidth":1.6,"interpolate":"monotone","clip":true},"encoding":{"x":{"field":"k","type":"quantitative","axis":null},"y":{"field":"e","type":"quantitative","axis":null}}},
{"data":{"values":[{"k":0}]},"mark":{"type":"rule","color":"black","strokeWidth":1.2},"encoding":{"x":{"field":"k","type":"quantitative","axis":{"orient":"bottom","values":[-0.1,0,0.1],"labelExpr":"datum.value<-0.05?'N':datum.value<0.05?'Γ':'X'","ticks":false,"labelFontSize":19,"labelPadding":6,"title":null}}}},
{"data":{"name":"arrows"},"mark":{"type":"rule","color":"black","strokeWidth":1.2,"clip":false},"encoding":{"x":{"field":"a","type":"quantitative","axis":null},"x2":{"field":"b"},"y":{"field":"e","type":"quantitative","axis":null}}},
{"data":{"name":"heads"},"mark":{"type":"point","filled":true,"color":"black","opacity":1,"size":45,"clip":false},"encoding":{"x":{"field":"k","type":"quantitative","axis":null},"y":{"field":"e","type":"quantitative","axis":null},"shape":{"field":"sh","type":"nominal","scale":null}}},
{"data":{"values":[{"k":-0.075,"e":1.669,"t":"(b)"}]},"mark":{"type":"text","align":"left","baseline":"middle","fontSize":18,"font":"Liberation Serif"},"encoding":{"x":{"field":"k","type":"quantitative","axis":null},"y":{"field":"e","type":"quantitative","axis":{"orient":"right","labels":false,"values":[-0.4,-0.2,0,1.8],"tickSize":-6,"title":null}},"text":{"field":"t"}}},
{"data":{"name":"breaks"},"mark":{"type":"text","align":"center","baseline":"middle","fontSize":20,"angle":-25,"font":"DejaVu Sans"},"encoding":{"x":{"field":"k","type":"quantitative","axis":null},"y":{"field":"e","type":"quantitative","axis":null},"text":{"field":"t"}}}
],
"resolve":{"axis":{"x":"independent","y":"independent"}}
},
{
"width":127,"height":162,
"layer":[
{"data":{"name":"pc"},"transform":[{"filter":"datum.c=='purple'"}],"mark":{"type":"line","color":"#a56de2","strokeWidth":1.6,"interpolate":"monotone","clip":true},
"encoding":{"x":{"field":"k","type":"quantitative","scale":{"domain":[-0.1,0.1],"nice":false,"zero":false},"axis":null},
"y":{"field":"e","type":"quantitative","scale":{"domain":[-0.4,0.057,1.645,1.898],"range":[162,58,58,0],"nice":false,"zero":false},"axis":{"values":[-0.4,-0.2,0,1.8],"format":".1f","title":null,"labelFontSize":17,"tickSize":-6,"labelPadding":10}}}},
{"data":{"name":"pc"},"transform":[{"filter":"datum.c=='red'"}],"mark":{"type":"line","color":"#f03a3a","strokeWidth":1.6,"interpolate":"monotone","clip":true},"encoding":{"x":{"field":"k","type":"quantitative","axis":null},"y":{"field":"e","type":"quantitative","axis":null}}},
{"data":{"name":"pc"},"transform":[{"filter":"datum.c=='blue'"}],"mark":{"type":"line","color":"#2170e0","strokeWidth":1.6,"interpolate":"monotone","clip":true},"encoding":{"x":{"field":"k","type":"quantitative","axis":null},"y":{"field":"e","type":"quantitative","axis":null}}},
{"data":{"name":"pc"},"transform":[{"filter":"datum.c=='green'"}],"mark":{"type":"line","color":"#2e9e5e","strokeWidth":1.6,"interpolate":"monotone","clip":true},"encoding":{"x":{"field":"k","type":"quantitative","axis":null},"y":{"field":"e","type":"quantitative","axis":null}}},
{"data":{"values":[{"k":0}]},"mark":{"type":"rule","color":"#444444","strokeWidth":1.2},"encoding":{"x":{"field":"k","type":"quantitative","axis":{"orient":"bottom","values":[-0.1,0,0.1],"labelExpr":"datum.value<-0.05?'M₀':datum.value<0.05?'Γ':'M'","ticks":false,"labelFontSize":19,"labelPadding":6,"title":null}}}},
{"data":{"name":"arrows"},"mark":{"type":"rule","color":"black","strokeWidth":1.2,"clip":false},"encoding":{"x":{"field":"a","type":"quantitative","axis":null},"x2":{"field":"b"},"y":{"field":"e","type":"quantitative","axis":null}}},
{"data":{"name":"heads"},"mark":{"type":"point","filled":true,"color":"black","opacity":1,"size":45,"clip":false},"encoding":{"x":{"field":"k","type":"quantitative","axis":null},"y":{"field":"e","type":"quantitative","axis":null},"shape":{"field":"sh","type":"nominal","scale":null}}},
{"data":{"values":[{"k":-0.075,"e":1.669,"t":"(c)"}]},"mark":{"type":"text","align":"left","baseline":"middle","fontSize":18,"font":"Liberation Serif"},"encoding":{"x":{"field":"k","type":"quantitative","axis":null},"y":{"field":"e","type":"quantitative","axis":{"orient":"right","labels":false,"values":[-0.4,-0.2,0,1.8],"tickSize":-6,"title":null}},"text":{"field":"t"}}},
{"data":{"name":"breaks"},"mark":{"type":"text","align":"center","baseline":"middle","fontSize":20,"angle":-25,"font":"DejaVu Sans"},"encoding":{"x":{"field":"k","type":"quantitative","axis":null},"y":{"field":"e","type":"quantitative","axis":null},"text":{"field":"t"}}}
],
"resolve":{"axis":{"x":"independent","y":"independent"}}
}
]
}
]
}
